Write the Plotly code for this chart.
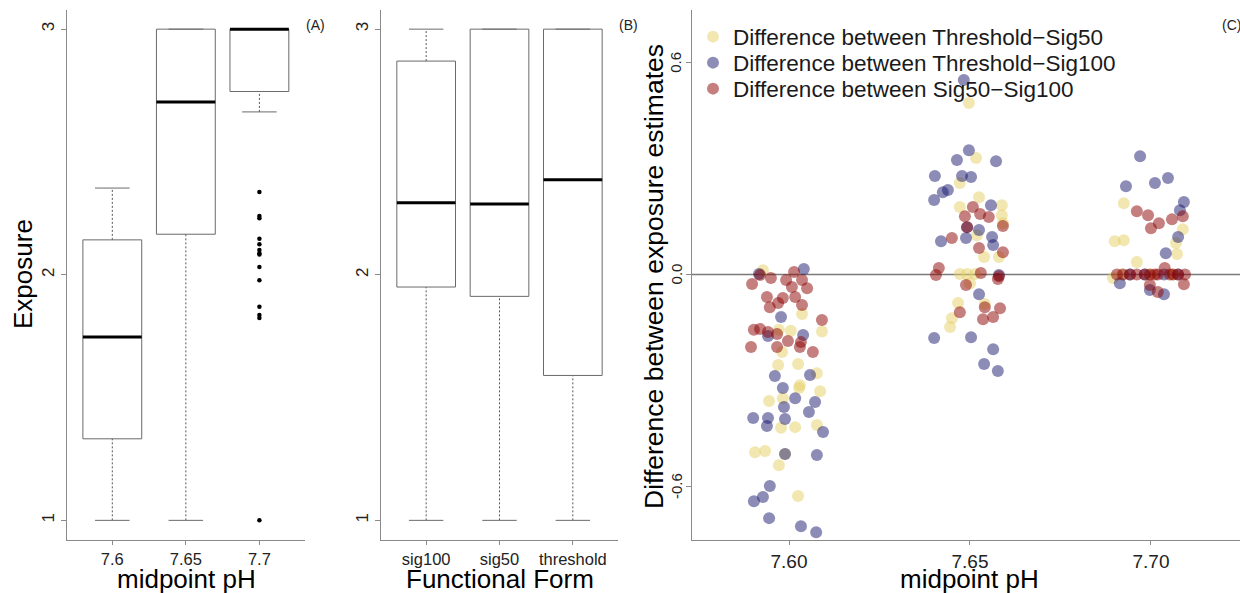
import plotly.graph_objects as go

# ---------------- data ----------------
# (A) exposure by midpoint pH: box statistics
ph_labels = ["7.6", "7.65", "7.7"]
ph_q1 = [1.332, 2.165, 2.746]
ph_median = [1.747, 2.703, 3.0]
ph_q3 = [2.142, 3.0, 3.0]
ph_lower = [1.0, 1.0, 2.663]
ph_upper = [2.353, 3.0, 3.0]
ph77_outliers = [2.337, 2.239, 2.230, 2.147, 2.124, 2.101, 2.088, 2.082,
                 2.032, 1.978, 1.870, 1.836, 1.824, 1.0]

# (B) exposure by functional form: box statistics
form_labels = ["sig100", "sig50", "threshold"]
form_q1 = [1.950, 1.912, 1.590]
form_median = [2.293, 2.288, 2.387]
form_q3 = [2.870, 3.0, 3.0]
form_lower = [1.0, 1.0, 1.0]
form_upper = [3.0, 3.0, 3.0]

exposure_ticks = [1, 2, 3]
exposure_ticktext = ["1", "2", "3"]

# (C) differences between exposure estimates (jittered midpoint pH)
thr_sig50_ph = [7.5928, 7.6036, 7.6091, 7.5972, 7.6005, 7.5981, 7.5970, 7.6025,
                7.6077, 7.6030, 7.6086, 7.6028, 7.5945, 7.5983, 7.5978, 7.6017,
                7.6077, 7.5906, 7.5934, 7.5989, 7.5972, 7.6025,
                7.6497, 7.6517, 7.6472, 7.6525, 7.6472, 7.6588, 7.6588, 7.6591,
                7.6519, 7.6539, 7.6580, 7.6472, 7.6492, 7.6514, 7.6500, 7.6467,
                7.6541, 7.6450, 7.6445,
                7.6925, 7.7088, 7.6900, 7.6925, 7.7069, 7.7072, 7.6961, 7.6895,
                7.6920, 7.7000, 7.7060]
thr_sig50_diff = [0.012, -0.112, -0.162, -0.157, -0.160, -0.220, -0.257, -0.254,
                  -0.280, -0.314, -0.331, -0.322, -0.359, -0.351, -0.435, -0.433,
                  -0.427, -0.504, -0.501, -0.509, -0.541, -0.628,
                  0.486, 0.330, 0.259, 0.219, 0.191, 0.196, 0.168, 0.145,
                  0.111, 0.049, 0.049, 0.001, 0.001, 0.001, -0.025, -0.081,
                  -0.084, -0.124, -0.149,
                  0.202, 0.128, 0.094, 0.097, 0.089, 0.058, 0.035, -0.010,
                  0.0, 0.0, 0.0]

thr_sig100_ph = [7.5917, 7.6041, 7.5978, 7.5942, 7.6039, 7.5961, 7.6058, 7.5983,
                 7.6017, 7.6072, 7.5986, 7.6055, 7.5901, 7.5942, 7.5939, 7.5989,
                 7.6094, 7.5989, 7.6077, 7.5947, 7.5928, 7.5903, 7.5945, 7.6033,
                 7.6075,
                 7.6483, 7.6497, 7.6464, 7.6572, 7.6403, 7.6478, 7.6503, 7.6439,
                 7.6425, 7.6401, 7.6558, 7.6492, 7.6525, 7.6420, 7.6489, 7.6561,
                 7.6564, 7.6525, 7.6401, 7.6503, 7.6564, 7.6539, 7.6577, 7.6580,
                 7.6970, 7.6931, 7.7011, 7.7047, 7.7091, 7.7080, 7.7075, 7.7041,
                 7.6914, 7.6997, 7.7036, 7.6983, 7.7036, 7.7075, 7.6942]
thr_sig100_diff = [0.001, 0.015, -0.121, -0.175, -0.172, -0.288, -0.285, -0.322,
                   -0.351, -0.362, -0.376, -0.390, -0.407, -0.407, -0.430, -0.410,
                   -0.447, -0.509, -0.512, -0.600, -0.631, -0.643, -0.691, -0.714,
                   -0.731,
                   0.551, 0.352, 0.324, 0.321, 0.279, 0.279, 0.276, 0.239,
                   0.233, 0.211, 0.196, 0.134, 0.126, 0.094, 0.103, 0.106,
                   0.083, -0.056, -0.180, -0.178, -0.212, -0.254, -0.274, -0.002,
                   0.335, 0.250, 0.259, 0.273, 0.205, 0.182, 0.106, 0.060,
                   -0.025, -0.044, -0.056, 0.0, 0.0, 0.0, 0.0]

sig50_sig100_ph = [7.5920, 7.5950, 7.5898, 7.5992, 7.6014, 7.6036, 7.6008, 7.6050,
                   7.5939, 7.6017, 7.5983, 7.5970, 7.5947, 7.6036, 7.6091, 7.5903,
                   7.5920, 7.5942, 7.5967, 7.5997, 7.6033, 7.6030, 7.5895, 7.5967,
                   7.6066,
                   7.6508, 7.6486, 7.6528, 7.6552, 7.6492, 7.6450, 7.6525, 7.6591,
                   7.6414, 7.6406, 7.6530, 7.6580, 7.6577, 7.6489, 7.6472, 7.6541,
                   7.6583, 7.6536, 7.6564, 7.6591,
                   7.6961, 7.6992, 7.7022, 7.7058, 7.7088, 7.7000, 7.7038,
                   7.6906, 7.6923, 7.6942, 7.6961, 7.6983, 7.6997, 7.7011, 7.7019,
                   7.7052, 7.7061, 7.7075, 7.7094, 7.7091, 7.6997, 7.7019]
sig50_sig100_diff = [-0.002, -0.010, -0.027, -0.016, 0.007, -0.016, -0.036, -0.039,
                     -0.064, -0.064, -0.067, -0.081, -0.093, -0.087, -0.129, -0.157,
                     -0.155, -0.163, -0.169, -0.189, -0.192, -0.206, -0.206, -0.206,
                     -0.220,
                     0.191, 0.165, 0.171, 0.163, 0.134, 0.103, 0.075, 0.063,
                     0.018, -0.002, 0.004, -0.005, -0.013, -0.030, -0.107, -0.093,
                     -0.096, -0.127, -0.121, 0.137,
                     0.179, 0.168, 0.145, 0.156, 0.165, 0.131, 0.018,
                     0.0, 0.0, 0.0, 0.0, 0.0, 0.0, 0.0, 0.0,
                     0.0, 0.0, 0.0, 0.0, -0.028, -0.030, -0.050]

series_names = ["Difference between Threshold\u2212Sig50",
                "Difference between Threshold\u2212Sig100",
                "Difference between Sig50\u2212Sig100"]
c_ticks = [-0.6, 0.0, 0.6]
c_ticktext = ["-0.6", "0.0", "0.6"]
ph_ticks = [7.60, 7.65, 7.70]
ph_ticktext = ["7.60", "7.65", "7.70"]

# ---------------- styling ----------------
FONT = "Liberation Sans, Arial, Helvetica, sans-serif"
AXIS_GREY = "#8a8a8a"
BOX_GREY = "#6a6a6a"
TICK_TEXT = "#222222"
HALF_BOX = 0.4
HALF_CAP = 0.235
W, H = 1240, 593

fig = go.Figure()


def add_boxes(q1, med, q3, lo, hi, xa, ya):
    """Draw R-style boxplots: dotted whiskers, solid staples, thick medians."""
    wx, wy, cx, cy, bx, by, mx, my = [], [], [], [], [], [], [], []
    for i in range(len(q1)):
        p = i + 1
        wx += [p, p, None, p, p, None]
        wy += [lo[i], q1[i], None, q3[i], hi[i], None]
        cx += [p - HALF_CAP, p + HALF_CAP, None, p - HALF_CAP, p + HALF_CAP, None]
        cy += [lo[i], lo[i], None, hi[i], hi[i], None]
        bx += [p - HALF_BOX, p + HALF_BOX, p + HALF_BOX, p - HALF_BOX, p - HALF_BOX, None]
        by += [q1[i], q1[i], q3[i], q3[i], q1[i], None]
        mx += [p - HALF_BOX, p + HALF_BOX, None]
        my += [med[i], med[i], None]
    common = dict(mode="lines", xaxis=xa, yaxis=ya, showlegend=False, hoverinfo="skip")
    fig.add_trace(go.Scatter(x=wx, y=wy, line=dict(color="#555555", width=1, dash="2px,2px"), **common))
    fig.add_trace(go.Scatter(x=cx, y=cy, line=dict(color=BOX_GREY, width=1), **common))
    fig.add_trace(go.Scatter(x=bx, y=by, line=dict(color=BOX_GREY, width=1), **common))
    fig.add_trace(go.Scatter(x=mx, y=my, line=dict(color="black", width=3), **common))


add_boxes(ph_q1, ph_median, ph_q3, ph_lower, ph_upper, "x", "y")
fig.add_trace(go.Scatter(x=[3] * len(ph77_outliers), y=ph77_outliers, mode="markers",
                         marker=dict(color="black", size=4.5), xaxis="x", yaxis="y",
                         showlegend=False, hoverinfo="skip"))
add_boxes(form_q1, form_median, form_q3, form_lower, form_upper, "x2", "y2")

# (C) scatter of differences, one legend row per series
c_colors = ["rgba(230,208,100,0.5)", "rgba(25,25,112,0.5)", "rgba(139,0,0,0.5)"]
c_x = [thr_sig50_ph, thr_sig100_ph, sig50_sig100_ph]
c_y = [thr_sig50_diff, thr_sig100_diff, sig50_sig100_diff]
legend_ids = ["legend", "legend2", "legend3"]
for name, col, xs, ys, lg in zip(series_names, c_colors, c_x, c_y, legend_ids):
    fig.add_trace(go.Scatter(x=xs, y=ys, mode="markers", name=name, legend=lg,
                             marker=dict(color=col, size=12, line=dict(width=0)),
                             xaxis="x3", yaxis="y3"))

fig.add_shape(type="line", xref="x3 domain", x0=0, x1=1, yref="y3", y0=0, y1=0,
              line=dict(color="#7a7a7a", width=1.5), layer="below")

Y_DOM = [53 / H, 583.5 / H]
axis_common = dict(showline=True, linecolor=AXIS_GREY, linewidth=1, mirror=False,
                   showgrid=False, zeroline=False, ticks="outside", ticklen=4,
                   tickcolor=AXIS_GREY, tickfont=dict(family=FONT, size=16.5, color=TICK_TEXT))
yaxis_common = dict(axis_common, ticklen=5, tickangle=-90,
                    tickfont=dict(family=FONT, size=17, color=TICK_TEXT))

legend_style = dict(xanchor="left", yanchor="middle", bgcolor="rgba(0,0,0,0)",
                    font=dict(family=FONT, size=22.5, color="#1a1a1a"),
                    itemsizing="trace", borderwidth=0)
LEG_X = 693 / W

fig.update_layout(
    width=W, height=H,
    margin=dict(l=0, r=0, t=0, b=0),
    paper_bgcolor="white", plot_bgcolor="white",
    font=dict(family=FONT, color="black"),
    xaxis=dict(axis_common, domain=[66.7 / W, 305 / W], range=[0.38, 3.62],
               tickvals=[1, 2, 3], ticktext=ph_labels, anchor="y"),
    yaxis=dict(yaxis_common, domain=Y_DOM, range=[0.92, 3.08], tickvals=exposure_ticks,
               ticktext=exposure_ticktext, anchor="x"),
    xaxis2=dict(axis_common, domain=[380.7 / W, 618.3 / W], range=[0.38, 3.62],
                tickvals=[1, 2, 3], ticktext=form_labels, anchor="y2"),
    yaxis2=dict(yaxis_common, domain=Y_DOM, range=[0.92, 3.08], tickvals=exposure_ticks,
                ticktext=exposure_ticktext, anchor="x2"),
    xaxis3=dict(axis_common, domain=[692 / W, 1.0], range=[7.5732, 7.7246],
                tickvals=ph_ticks, ticktext=ph_ticktext, anchor="y3",
                tickfont=dict(family=FONT, size=19, color=TICK_TEXT)),
    yaxis3=dict(yaxis_common, domain=Y_DOM, range=[-0.753, 0.751], tickvals=c_ticks,
                showticklabels=False, anchor="x3"),
    legend=dict(legend_style, x=LEG_X, y=1 - 37 / H),
    legend2=dict(legend_style, x=LEG_X, y=1 - 63 / H),
    legend3=dict(legend_style, x=LEG_X, y=1 - 89 / H),
    showlegend=True,
)

# rotated tick labels of the difference axis, placed at the tick values
for val, txt in zip(c_ticks, c_ticktext):
    fig.add_annotation(text=txt, xref="paper", yref="y3", x=676 / W, y=val,
                       textangle=-90, showarrow=False, xanchor="center", yanchor="middle",
                       font=dict(family=FONT, size=15, color=TICK_TEXT))

title_font = dict(family=FONT, size=26, color="black")
ann = [
    dict(text="Exposure", x=23 / W, y=1 - 274 / H, textangle=-90),
    dict(text="midpoint pH", x=186 / W, y=1 - 579 / H),
    dict(text="Functional Form", x=500 / W, y=1 - 579 / H),
    dict(text="midpoint pH", x=969 / W, y=1 - 579 / H),
    dict(text="Difference between exposure estimates", x=654 / W, y=1 - 277 / H,
         textangle=-90, font=dict(family=FONT, size=26.5, color="black")),
]
for a in ann:
    a.setdefault("font", title_font)
    fig.add_annotation(xref="paper", yref="paper", showarrow=False,
                       xanchor="center", yanchor="middle", **a)

panel_font = dict(family=FONT, size=14, color=TICK_TEXT)
for lab, xpx in [("(A)", 315), ("(B)", 628), ("(C)", 1231)]:
    fig.add_annotation(text=lab, xref="paper", yref="paper", x=xpx / W, y=1 - 25 / H,
                       showarrow=False, xanchor="center", yanchor="middle", font=panel_font)

fig.write_html("out.html")
